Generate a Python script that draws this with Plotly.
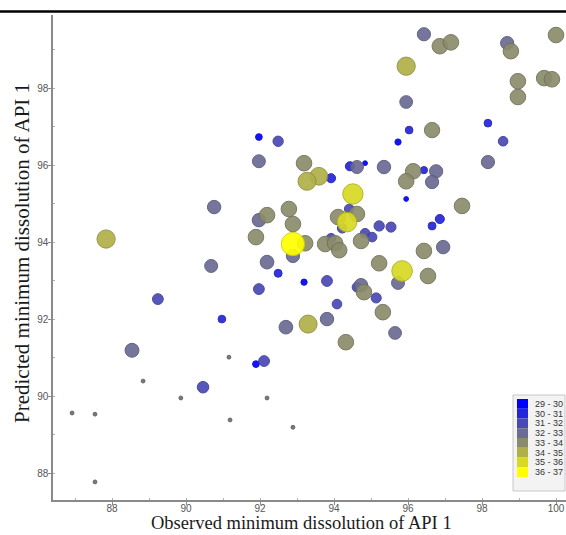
import numpy as np
import plotly.graph_objects as go

# Observed vs predicted minimum dissolution of API 1; the third variable
# (response) drives both marker colour (binned) and marker size.
observed = [
    # small grey points
    91.16, 89.86, 92.19, 88.84, 86.92, 87.54, 91.19, 92.89, 87.54,
    # blue range
    91.97, 94.84, 95.95, 93.19, 95.73, 91.89, 90.97, 96.43, 96.03, 98.16,
    96.65, 92.49, 92.49, 94.43, 93.92, 96.86, 98.57, 95.22, 95.54, 94.84,
    95.03, 94.22, 94.41, 93.92, 93.81, 91.97, 94.08, 94.62, 95.14, 89.24,
    90.46, 92.11,
    # grey-blue range
    96.43, 98.68, 95.95, 98.16, 95.35, 94.62, 96.76, 96.65, 91.97, 90.76,
    91.97, 96.95, 90.68, 92.19, 92.89, 95.73, 93.81, 92.70, 95.65, 88.54,
    94.73,
    # olive range
    96.86, 97.16, 98.78, 100.00, 98.97, 98.97, 99.68, 99.89, 96.65, 96.14,
    95.95, 93.19, 97.46, 94.11, 94.62, 94.73, 93.76, 94.03, 94.14, 96.43,
    92.78, 92.19, 92.89, 91.89, 93.22, 95.22, 96.54, 94.81, 95.32, 94.32,
    # yellow range
    95.95, 93.27, 93.59, 93.30, 87.84, 94.51, 94.35, 95.84, 92.89,
]

predicted = [
    91.01, 89.95, 89.95, 90.39, 89.56, 89.53, 89.38, 89.19, 87.77,
    96.73, 96.05, 95.12, 92.96, 96.60, 90.83, 92.00, 95.87, 96.91, 97.09,
    94.42, 93.19, 96.62, 95.97, 95.66, 94.60, 96.62, 94.42, 94.39, 94.23,
    94.13, 94.36, 94.86, 94.10, 92.99, 92.78, 92.39, 92.83, 92.55, 92.52,
    90.23, 90.91,
    99.40, 99.17, 97.64, 96.08, 95.95, 95.95, 95.84, 95.56, 96.10, 94.91,
    94.57, 93.87, 93.38, 93.48, 93.64, 92.94, 92.00, 91.79, 91.64, 91.19,
    92.88,
    99.09, 99.19, 98.96, 99.38, 98.18, 97.77, 98.26, 98.23, 96.91, 95.84,
    95.58, 96.05, 94.94, 94.65, 94.73, 94.03, 93.95, 93.97, 93.79, 93.77,
    94.86, 94.70, 94.47, 94.13, 93.97, 93.45, 93.12, 92.70, 92.18, 91.40,
    98.57, 95.58, 95.71, 91.87, 94.08, 95.25, 94.52, 93.25, 93.95,
]

response = [
    28.6, 28.6, 28.6, 28.6, 28.6, 28.6, 28.6, 28.6, 28.6,
    29.8, 29.0, 29.0, 29.6, 29.6, 29.8, 30.2, 30.0, 30.2, 30.2,
    30.3, 30.3, 31.3, 30.8, 30.8, 30.8, 31.0, 31.3, 31.2, 31.0,
    31.0, 31.0, 31.0, 31.0, 31.5, 31.5, 31.0, 31.0, 31.2, 31.5,
    31.8, 31.5,
    32.5, 32.5, 32.3, 32.5, 32.6, 32.4, 32.5, 32.5, 32.4, 32.6,
    32.6, 32.6, 32.4, 32.7, 32.5, 32.4, 32.6, 32.7, 32.3, 32.8,
    32.6,
    33.5, 33.5, 33.5, 33.5, 33.5, 33.5, 33.5, 33.5, 33.4, 33.5,
    33.5, 33.5, 33.5, 33.5, 33.5, 33.5, 33.5, 33.5, 33.5, 33.5,
    33.5, 33.5, 33.5, 33.5, 33.5, 33.5, 33.5, 33.5, 33.5, 33.5,
    34.6, 34.5, 34.4, 34.5, 34.6, 35.5, 35.2, 35.6, 36.7,
]

bin_labels = ["29 - 30", "30 - 31", "31 - 32", "32 - 33",
              "33 - 34", "34 - 35", "35 - 36", "36 - 37"]
bin_lower = [29, 30, 31, 32, 33, 34, 35, 36]
bin_colors = ["#0000ff", "#2424db", "#4949b6", "#6b6b94",
              "#8b8b6c", "#b0b048", "#d9d924", "#ffff00"]
below_color = "#6e6e6e"

x_ticks = [88, 90, 92, 94, 96, 98, 100]
y_ticks = [88, 90, 92, 94, 96, 98]

obs = np.array(observed)
pred = np.array(predicted)
resp = np.array(response)


def darker(hex_color, f=0.82):
    h = hex_color.lstrip("#")
    r, g, b = (int(h[i:i + 2], 16) for i in (0, 2, 4))
    return f"rgb({int(r * f)},{int(g * f)},{int(b * f)})"


def bin_color(v):
    if v < bin_lower[0]:
        return below_color
    idx = min(int(np.floor(v - bin_lower[0])), len(bin_colors) - 1)
    return bin_colors[idx]


order = np.argsort(resp, kind="stable")
colors = [bin_color(v) for v in resp[order]]
edge = [darker(c) for c in colors]
sizes = np.clip(2.4 * (resp[order] - 27.0), 3.5, None)

fig = go.Figure()
fig.add_trace(go.Scatter(
    x=obs[order], y=pred[order], mode="markers",
    marker=dict(color=colors, size=sizes, opacity=0.92,
                line=dict(color=edge, width=1)),
    showlegend=False, hoverinfo="x+y",
))

W, H = 566, 535
ML, MR, MT, MB = 53, 0, 15, 35
PW, PH = W - ML - MR, H - MT - MB


def px(xp):
    return (xp - ML) / PW


def py(yp):
    return (H - MB - yp) / PH


axis_font = dict(family="Liberation Sans, Arial, sans-serif", size=10, color="#555555")
fig.update_xaxes(range=[86.405, 100.27], tickvals=x_ticks, showgrid=False, zeroline=False,
                 showline=True, linecolor="#8a8a8a", linewidth=1.5,
                 ticks="outside", ticklen=3, tickcolor="#8a8a8a", tickfont=axis_font,
                 ticklabelstandoff=-5,
                 minor=dict(dtick=1, ticks="inside", ticklen=2, tickcolor="#b0b0b0"))
fig.update_yaxes(range=[87.30, 99.90], tickvals=y_ticks, showgrid=False, zeroline=False,
                 showline=True, linecolor="#8a8a8a", linewidth=1.5,
                 ticks="outside", ticklen=3, tickcolor="#8a8a8a", tickfont=axis_font,
                 ticklabelstandoff=-2,
                 minor=dict(dtick=1, ticks="inside", ticklen=2, tickcolor="#b0b0b0"))

shapes = [
    # rule across the top of the figure
    dict(type="line", xref="paper", yref="paper", x0=px(0), x1=px(W),
         y0=py(11.5), y1=py(11.5), line=dict(color="black", width=2.5)),
    # legend panel
    dict(type="rect", xref="paper", yref="paper", x0=px(513), x1=px(565),
         y0=py(491), y1=py(395), fillcolor="#f3f3f3",
         line=dict(color="#c8c8c8", width=1), layer="above"),
]
annotations = []
sw_top, sw_h = 399.0, 9.75
for i, (lab, col) in enumerate(zip(bin_labels, bin_colors)):
    y0 = sw_top + i * sw_h
    shapes.append(dict(type="rect", xref="paper", yref="paper",
                       x0=px(517), x1=px(528), y0=py(y0 + sw_h), y1=py(y0),
                       fillcolor=col, line=dict(width=0), layer="above"))
    annotations.append(dict(x=px(532.5), y=py(y0 + sw_h / 2), xref="paper", yref="paper",
                            text=lab, showarrow=False, xanchor="left", yanchor="middle",
                            font=dict(family="Liberation Sans, Arial, sans-serif",
                                      size=9, color="#333333")))

title_font = "Liberation Serif, Times New Roman, serif"
annotations.append(dict(x=px(301), y=py(523), xref="paper", yref="paper",
                        text="Observed minimum dissolution of API 1", showarrow=False,
                        xanchor="center", yanchor="middle",
                        font=dict(family=title_font, size=18.5, color="#1a1a1a")))
annotations.append(dict(x=px(22), y=py(253), xref="paper", yref="paper",
                        text="Predicted minimum dissolution of API 1", showarrow=False,
                        textangle=-90, xanchor="center", yanchor="middle",
                        font=dict(family=title_font, size=21, color="#1a1a1a")))

fig.update_layout(
    width=W, height=H, margin=dict(l=ML, r=MR, t=MT, b=MB),
    paper_bgcolor="white", plot_bgcolor="white",
    shapes=shapes, annotations=annotations,
)

fig.write_html("out.html")
